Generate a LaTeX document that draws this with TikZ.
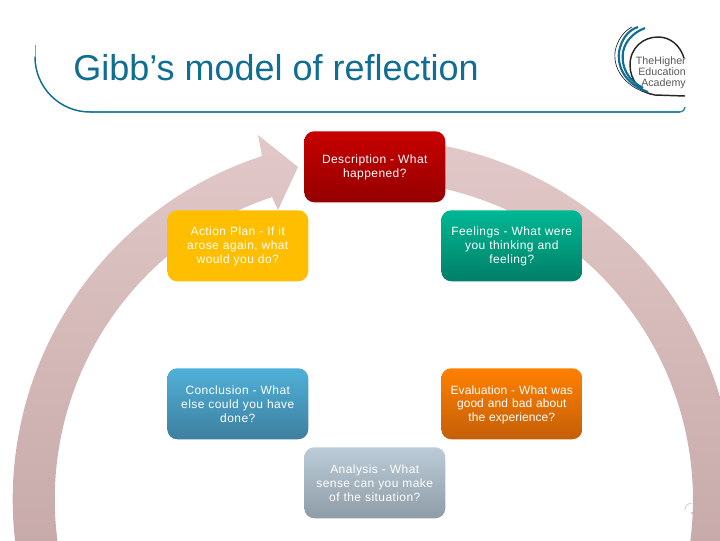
\documentclass[tikz,border=0pt]{standalone}
\usepackage{fontspec}
\setmainfont{Liberation Sans}
\definecolor{ringtop}{HTML}{E2C8C8}
\definecolor{ringbot}{HTML}{C2A4A4}
\definecolor{teal}{HTML}{0F6E92}
\definecolor{lineblue}{HTML}{2C86A6}
\definecolor{descT}{HTML}{C80000}\definecolor{descB}{HTML}{950000}
\definecolor{feelT}{HTML}{00B894}\definecolor{feelB}{HTML}{007F68}
\definecolor{evalT}{HTML}{FF8000}\definecolor{evalB}{HTML}{C45F08}
\definecolor{analT}{HTML}{BBCCD8}\definecolor{analB}{HTML}{8E9CA6}
\definecolor{concT}{HTML}{50B0D8}\definecolor{concB}{HTML}{3E7F9F}
\definecolor{actC}{HTML}{FFBE00}
\tikzset{
  px/.style={x=0.75pt,y=-0.75pt},
  stage/.style={rounded corners=7.5pt,minimum width=105.75pt,minimum height=53.25pt,inner sep=0pt,text width=102pt,align=center,text=white,font=\fontsize{9}{10.5}\selectfont\addfontfeature{LetterSpace=3.5},anchor=north west},
  tightstage/.style={stage,font=\fontsize{9}{9.9}\selectfont\addfontfeature{LetterSpace=0.5}},
  logotext/.style={font=\fontsize{8}{8}\selectfont,text=black!65,anchor=base east,inner sep=0pt},
}
\newcommand{\stagebox}[6]{%
  \node[stage,top color=#3,bottom color=#4] (#1) at (#2) {#5\\#6};}
\newcommand{\lowline}{\rule{0pt}{8pt}}
\begin{document}
\begin{tikzpicture}[px]
\useasboundingbox (0,0) rectangle (720,540);
% ring
\begin{scope}
\clip (0,0) rectangle (720,540);
\shade[top color=ringtop,bottom color=ringbot]
  (374,139) arc[start angle=-90,end angle=20,radius=361]
  -- ++(-39.5,-14.4) arc[start angle=20,end angle=-90,radius=319] -- cycle;
\shade[top color=ringtop,bottom color=ringbot]
  (262,156) -- (258,135) -- (298,167) -- (278,210) -- (272,197)
  arc[start angle=251.4,end angle=160,radius=319]
  -- ++(-39.5,14.4) arc[start angle=160,end angle=252,radius=361] -- cycle;
\end{scope}
% title rule
\fill[lineblue] (90,111.2) rectangle (680,112.8);
\draw[line width=1.1pt,teal,line cap=round] (90,112) arc[start angle=90,end angle=180,radius=55];
\draw[line width=.5pt,teal!60] (35,57) -- (35,45);
\draw[line width=1pt,lineblue] (680,112) arc[start angle=90,end angle=0,radius=5];
\node[anchor=base west,inner sep=0pt,text=teal,font=\fontsize{27}{30}\selectfont] (title) at (73,80) {Gibb’s model of reflection};
% boxes
\stagebox{desc}{304,131}{descT}{descB}{\lowline Description - What}{happened?}
\stagebox{feel}{441,210}{feelT}{feelB}{\lowline Feelings - What were}{you thinking and\\feeling?}
\node[tightstage,top color=evalT,bottom color=evalB] (eval) at (441,368) {\lowline Evaluation - What was\\good and bad about\\the experience?};
\stagebox{anal}{304,447}{analT}{analB}{Analysis - What}{sense can you make\\of the situation?}
\stagebox{conc}{167,368}{concT}{concB}{Conclusion - What}{else could you have\\done?}
\stagebox{act}{167,210}{actC}{actC}{\lowline Action Plan - If it}{arose again, what\\would you do?}
% logo
\draw[line width=1.1pt,black!85] (685,96) -- (655,95) .. controls (640,93) and (630,80) .. (630,65) .. controls (630,48) and (643,37) .. (658,37) .. controls (670,37) and (680,45) .. (684,58);
\draw[line width=1.6pt,teal] (643,88) .. controls (628,80) and (621,68) .. (623,52) .. controls (625,42) and (632,33) .. (645,28);
\draw[line width=1.6pt,teal] (648,92) .. controls (628,85) and (617,70) .. (619,52) .. controls (621,40) and (628,30) .. (638,27);
\draw[line width=.5pt,black!85] (650,94) .. controls (628,88) and (613,72) .. (615,52) .. controls (617,40) and (624,31) .. (632,27);
\node[logotext] (l1) at (686,64) {TheHigher};
\node[logotext] (l2) at (686,75) {Education};
\node[logotext] (l3) at (686,86) {Academy};
% faint mark at the ring edge
\draw[line width=.6pt,black!18] (685,510) .. controls (685,506) and (688,503) .. (692,503);
\fill[black!70] (692,513) circle[radius=.6];
\end{tikzpicture}
\end{document}
